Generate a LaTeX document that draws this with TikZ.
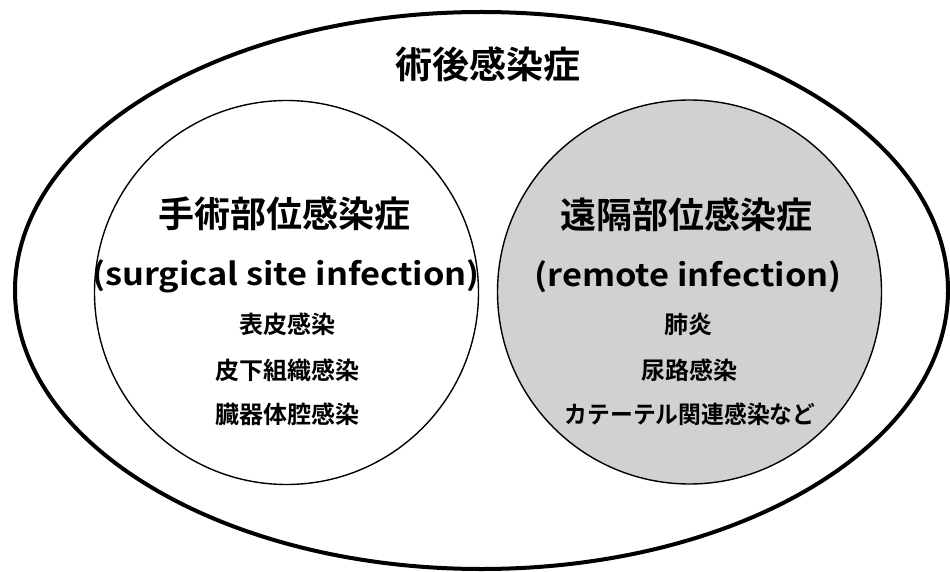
\documentclass[tikz,border=0pt]{standalone}
\usepackage{fontspec}
\usepackage{graphicx}
\usetikzlibrary{shapes.geometric}
\newfontfamily\jp{Noto Sans CJK JP}[BoldFont={Noto Sans CJK JP Bold}]
\definecolor{fillgray}{RGB}{208,209,209}
\newcommand{\widetext}[1]{\scalebox{1.11}[1]{#1}}
\begin{document}
\begin{tikzpicture}[x=1pt,y=-1pt,
  outerring/.style={ellipse, draw=black, line width=4pt, inner sep=0pt},
  innerring/.style={circle, draw=black, line width=1.4pt, inner sep=0pt, minimum size=384pt},
  titletext/.style={font=\jp\bfseries\fontsize{37}{40}\selectfont, inner sep=0pt},
  headtext/.style={font=\jp\bfseries\fontsize{36}{40}\selectfont, inner sep=0pt},
  engtext/.style={font=\jp\bfseries\fontsize{31}{36}\selectfont, inner sep=0pt},
  itemtext/.style={font=\jp\bfseries\fontsize{24}{28}\selectfont, inner sep=0pt}]
\useasboundingbox (0,0) rectangle (950,572);
\fill[white] (0,0) rectangle (950,572);
\node[outerring, minimum width=933pt, minimum height=557pt] (outer) at (481.5,290.5) {};
\node[innerring] (ssi) at (286.5,292.5) {};
\node[innerring, fill=fillgray] (remote) at (689.5,292) {};
\node[titletext] (title) at (488,64) {術後感染症};
\node[headtext] (ssiT) at (284,214) {手術部位感染症};
\node[engtext] (ssiE) at (286,276) {\widetext{(surgical site infection)}};
\node[itemtext] (ssi1) at (287,324) {表皮感染};
\node[itemtext] (ssi2) at (287,370) {皮下組織感染};
\node[itemtext] (ssi3) at (287,414) {臓器体腔感染};
\node[headtext] (remT) at (686,215) {遠隔部位感染症};
\node[engtext] (remE) at (688,277) {\widetext{(remote infection)}};
\node[itemtext] (rem1) at (688,324) {肺炎};
\node[itemtext] (rem2) at (689,370) {尿路感染};
\node[itemtext] (rem3) at (690,414) {\scalebox{0.95}[1]{カテーテル関連感染など}};
\end{tikzpicture}
\end{document}
